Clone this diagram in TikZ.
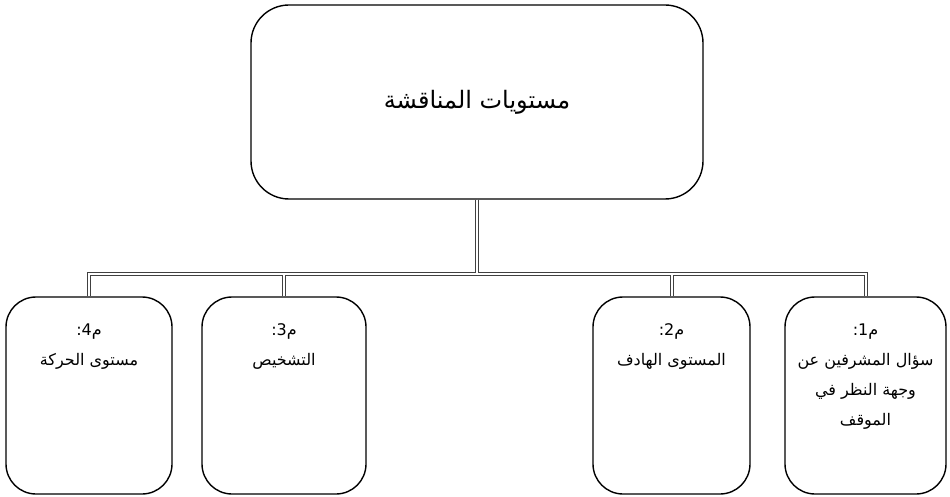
\documentclass[tikz,border=0pt]{standalone}
\usepackage{fontspec}
\newfontfamily\arabicfont[Script=Arabic]{DejaVu Sans}
\TeXXeTstate=1
\newcommand\connpaths[1]{%
  \draw[#1] (top.south) -- (bus);
  \draw[#1] (m4.north) -- (m4.north |- bus) -- (m1.north |- bus) -- (m1.north);
  \draw[#1] (m3.north) -- (m3.north |- bus);
  \draw[#1] (m2.north) -- (m2.north |- bus);
}
\begin{document}
\begin{tikzpicture}[x=1pt,y=-1pt,
  bigbox/.style={draw=black, line width=1.4pt, rounded corners=38pt, inner sep=0pt},
  smallbox/.style={draw=black, line width=1.4pt, rounded corners=30pt, inner sep=0pt,
    minimum height=197pt},
  title/.style={font=\arabicfont\fontsize{24}{28}\selectfont, inner sep=0pt},
  lab/.style={font=\arabicfont\fontsize{16}{30}\selectfont, align=center, inner sep=0pt,
    anchor=north},
  connout/.style={draw=black!75, line width=4pt},
  connin/.style={draw=white, line width=2pt}]
\useasboundingbox (0,0) rectangle (950,497);

\node[bigbox, minimum width=452pt, minimum height=194pt] (top) at (477,102) {};
\node[title] (toptext) at (top.center) {\arabicfont\beginR مستويات المناقشة\endR};

\node[smallbox, minimum width=161pt] (m1) at (865.5,395.5) {};
\node[smallbox, minimum width=157pt] (m2) at (671.5,395.5) {};
\node[smallbox, minimum width=164pt] (m3) at (284,395.5) {};
\node[smallbox, minimum width=166pt] (m4) at (89,395.5) {};

\coordinate (bus) at (477,274);

\connpaths{connout}
\connpaths{connin}

\node[lab] (t1) at ([yshift=-27pt]m1.north) {م1:\\ \beginR سؤال المشرفين عن\endR\\ \beginR وجهة النظر في\endR\\ \beginR الموقف\endR};
\node[lab] (t2) at ([yshift=-27pt]m2.north) {م2:\\ \beginR المستوى الهادف\endR};
\node[lab] (t3) at ([yshift=-27pt]m3.north) {م3:\\ \beginR التشخيص\endR};
\node[lab] (t4) at ([yshift=-27pt]m4.north) {م4:\\ \beginR مستوى الحركة\endR};
\end{tikzpicture}
\end{document}
